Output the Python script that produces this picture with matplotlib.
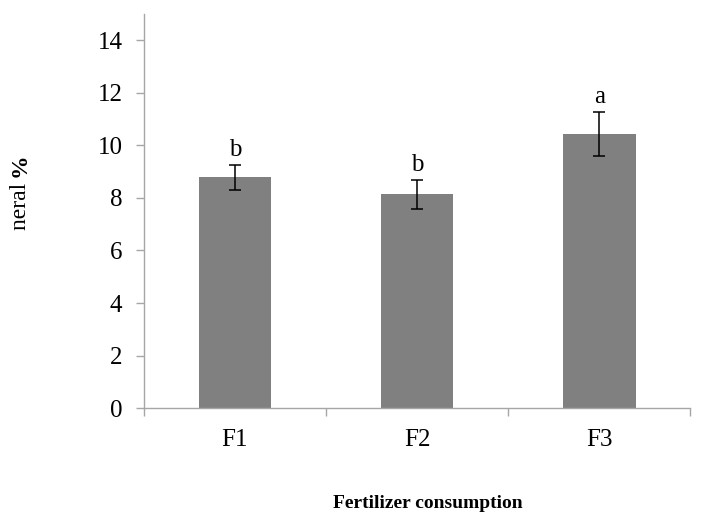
import matplotlib
matplotlib.use("Agg")
import matplotlib.pyplot as plt

categories = ["F1", "F2", "F3"]
values = [8.79, 8.13, 10.43]
errors = [0.48, 0.56, 0.84]
letters = ["b", "b", "a"]

plt.rcParams["font.family"] = ["Liberation Serif", "DejaVu Serif"]

fig = plt.figure(figsize=(7.16, 5.16), dpi=100)
ax = fig.add_axes([0.201, 0.209, 0.763, 0.764])

x = list(range(len(categories)))
ax.bar(x, values, width=0.4, color="#808080", zorder=2)
ax.errorbar(x, values, yerr=errors, fmt="none", ecolor="black",
            elinewidth=1.1, capsize=4.5, capthick=1.1, zorder=3)

for xi, v, e, lab in zip(x, values, errors, letters):
    ax.text(xi, v + e + 0.33, lab, ha="center", va="baseline", fontsize=18)

ax.set_xlim(-0.5, 2.5)
ax.set_ylim(0, 15)
ax.set_yticks(range(0, 15, 2))
ax.set_xticks(x)
ax.set_xticklabels(categories)
ax.set_xticks([-0.5, 0.5, 1.5, 2.5], minor=True)
ax.tick_params(axis="x", which="major", length=0, pad=15, labelsize=18)
ax.tick_params(axis="x", which="minor", length=5.5, color="#a6a6a6", width=1)
ax.tick_params(axis="y", length=5.5, color="#a6a6a6", width=1, labelsize=18, pad=10)

for side in ["top", "right"]:
    ax.spines[side].set_visible(False)
for side in ["left", "bottom"]:
    ax.spines[side].set_color("#a6a6a6")
    ax.spines[side].set_linewidth(1)

# y label: "neral" regular, "%" bold
fig.text(0.028, 0.657, "neral ", rotation=90, ha="center", va="top",
         fontsize=17)
fig.text(0.028, 0.657, "%", rotation=90, ha="center", va="bottom",
         fontsize=17, fontweight="bold")
fig.text(0.597, 0.025, "Fertilizer consumption", ha="center", va="center",
         fontsize=14, fontweight="bold")

fig.savefig("out.png", dpi=100)
